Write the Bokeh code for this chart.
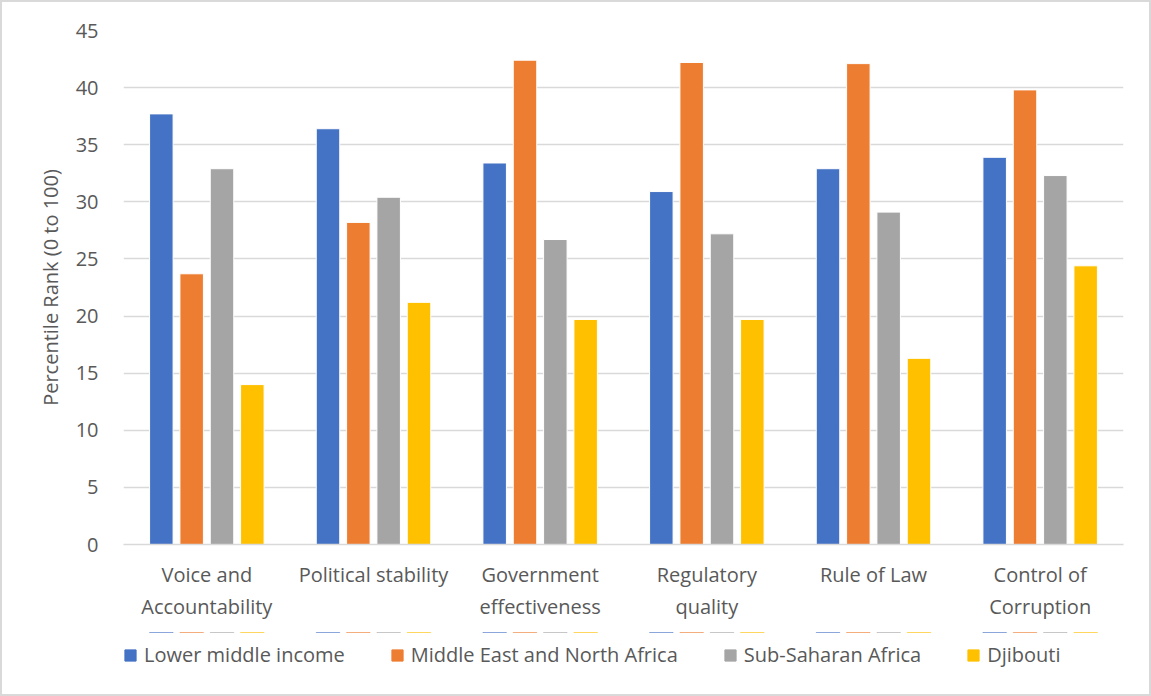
from bokeh.plotting import figure
from bokeh.layouts import column
from bokeh.models import ColumnDataSource, FactorRange, Legend, LegendItem, SingleIntervalTicker, Range1d
from bokeh.transform import dodge
from bokeh.embed import file_html
from bokeh.resources import INLINE

# Governance indicators, percentile rank (0 to 100)
categories = [
    "Voice and\nAccountability",
    "Political stability",
    "Government\neffectiveness",
    "Regulatory\nquality",
    "Rule of Law",
    "Control of\nCorruption",
]
lower_middle_income = [37.7, 36.4, 33.4, 30.9, 32.9, 33.9]
mena = [23.7, 28.2, 42.4, 42.2, 42.1, 39.8]
sub_saharan_africa = [32.9, 30.4, 26.7, 27.2, 29.1, 32.3]
djibouti = [14.0, 21.2, 19.7, 19.7, 16.3, 24.4]

series_names = [
    "Lower middle income",
    "Middle East and North Africa",
    "Sub-Saharan Africa",
    "Djibouti",
]
series_keys = ["lmi", "mena", "ssa", "dji"]
colors = ["#4472C4", "#ED7D31", "#A5A5A5", "#FFC000"]
offsets = [-0.273, -0.091, 0.091, 0.273]

source = ColumnDataSource(dict(
    cat=categories,
    lmi=lower_middle_income,
    mena=mena,
    ssa=sub_saharan_africa,
    dji=djibouti,
))

FONT = "Open Sans"
TEXT = "#595959"
GRID = "#D9D9D9"
W = 1147

# main bar chart
p = figure(
    x_range=FactorRange(*categories, range_padding=0),
    y_range=(0, 45),
    width=W, height=630,
    output_backend="svg",
    toolbar_location=None,
    min_border_left=121, min_border_right=26,
    min_border_top=28, min_border_bottom=88,
)

for key, col, off in zip(series_keys, colors, offsets):
    p.vbar(x=dodge("cat", off, range=p.x_range), top=key, width=0.141,
           source=source, fill_color=col, line_color="white", line_width=1)

p.outline_line_color = None
p.background_fill_color = "white"
p.border_fill_color = "white"

p.xgrid.grid_line_color = None
p.ygrid.grid_line_color = GRID
p.ygrid.grid_line_width = 1.5

p.yaxis.ticker = SingleIntervalTicker(interval=5)
p.yaxis.axis_line_color = None
p.yaxis.major_tick_line_color = None
p.yaxis.minor_tick_line_color = None
p.yaxis.major_label_text_font = FONT
p.yaxis.major_label_text_font_size = "20px"
p.yaxis.major_label_text_color = TEXT
p.yaxis.major_label_standoff = 19
p.yaxis.axis_label = "Percentile Rank (0 to 100)"
p.yaxis.axis_label_text_font = FONT
p.yaxis.axis_label_text_font_size = "20px"
p.yaxis.axis_label_text_font_style = "normal"
p.yaxis.axis_label_text_color = TEXT
p.yaxis.axis_label_standoff = 9

p.xaxis.axis_line_color = GRID
p.xaxis.axis_line_width = 1.5
p.xaxis.major_tick_line_color = None
p.xaxis.minor_tick_line_color = None
p.xaxis.major_label_text_font = FONT
p.xaxis.major_label_text_font_size = "20px"
p.xaxis.major_label_text_color = TEXT
p.xaxis.major_label_standoff = 10

# legend strip underneath the chart; its bars sit outside the visible range
q = figure(
    width=W, height=62,
    x_range=p.x_range, y_range=Range1d(-2, -1),
    output_backend="svg",
    toolbar_location=None,
    min_border=0,
)
q.axis.visible = False
q.grid.visible = False
q.outline_line_color = None
q.background_fill_color = "white"
q.border_fill_color = "white"

items = []
for key, name, col, off in zip(series_keys, series_names, colors, offsets):
    r = q.vbar(x=dodge("cat", off, range=q.x_range), top=key, width=0.141,
               source=source, fill_color=col, line_color=col)
    items.append(LegendItem(label=name, renderers=[r]))

legend = Legend(items=items, orientation="horizontal", location=(0, 26))
legend.label_text_font = FONT
legend.label_text_font_size = "20px"
legend.label_text_color = TEXT
legend.glyph_width = 14
legend.glyph_height = 14
legend.label_standoff = 7
legend.spacing = 45
legend.padding = 0
legend.margin = 0
legend.border_line_color = None
legend.background_fill_alpha = 0
q.add_layout(legend, "center")

layout = column(p, q, spacing=0)
layout.styles = {"border": "2px solid #D9D9D9", "background-color": "white"}

open("out.html", "w").write(file_html(layout, INLINE))
